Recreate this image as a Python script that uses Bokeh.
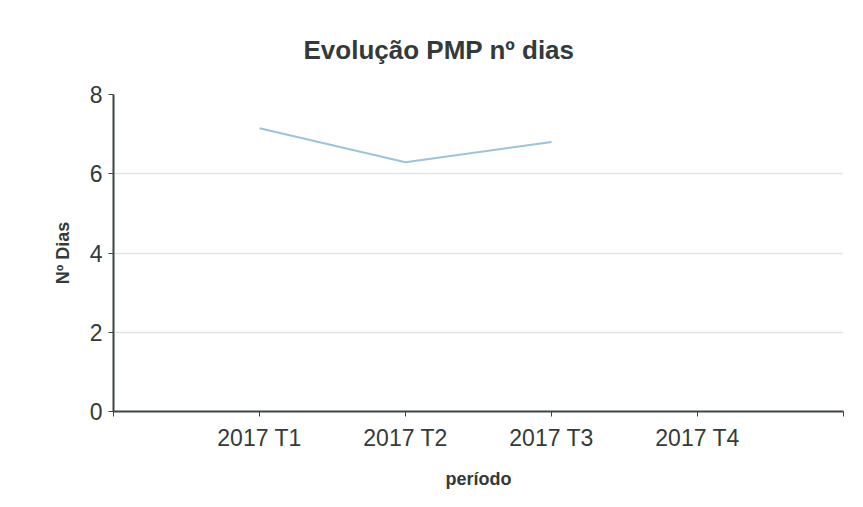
from bokeh.plotting import figure
from bokeh.models import Range1d, FixedTicker
from bokeh.embed import file_html
from bokeh.resources import INLINE

# Data
periods = ["2017 T1", "2017 T2", "2017 T3", "2017 T4"]
pmp_days = [7.15, 6.29, 6.8]
y_ticks = [0, 2, 4, 6, 8]

x_pos = list(range(1, len(pmp_days) + 1))

p = figure(width=847, height=491, output_backend="svg", toolbar_location=None,
           x_range=Range1d(0, len(periods) + 1), y_range=Range1d(0, 8),
           title="Evolução PMP nº dias",
           min_border_left=113, min_border_right=4, min_border_top=94, min_border_bottom=80)

p.line(x_pos, pmp_days, line_color="#9cc3dc", line_width=2)

p.title.align = "left"
p.title.text_font = "Liberation Sans"
p.title.text_font_size = "26px"
p.title.text_font_style = "bold"
p.title.text_color = "#333a3a"
p.title.offset = 190
p.title.standoff = 59

text_col = "#333a3a"
axis_col = "#3c4443"

p.xaxis.ticker = FixedTicker(ticks=[0, 1, 2, 3, 4, 5])
p.xaxis.major_label_overrides = {0: "", 1: periods[0], 2: periods[1], 3: periods[2], 4: periods[3], 5: ""}
p.xaxis.axis_label = "período"
p.yaxis.ticker = FixedTicker(ticks=y_ticks)
p.yaxis.axis_label = "Nº Dias"

for ax in (p.xaxis[0], p.yaxis[0]):
    ax.axis_line_color = axis_col
    ax.axis_line_width = 2
    ax.major_tick_line_color = axis_col
    ax.major_tick_line_width = 1
    ax.major_tick_out = 5
    ax.major_tick_in = 0
    ax.minor_tick_line_color = None
    ax.major_label_text_font = "Liberation Sans"
    ax.major_label_text_font_size = "23px"
    ax.major_label_text_color = text_col
    ax.axis_label_text_font = "Liberation Sans"
    ax.axis_label_text_font_size = "18px"
    ax.axis_label_text_font_style = "bold"
    ax.axis_label_text_color = text_col

p.xaxis.major_label_standoff = 8
p.xaxis.axis_label_standoff = 15
p.yaxis.major_label_standoff = 6
p.yaxis.axis_label_standoff = 14

p.xgrid.grid_line_color = None
p.ygrid.grid_line_color = "#e4e4e4"
p.ygrid.grid_line_width = 1.5
p.outline_line_color = None
p.background_fill_color = "white"
p.border_fill_color = "white"

open("out.html", "w").write(file_html(p, INLINE))
